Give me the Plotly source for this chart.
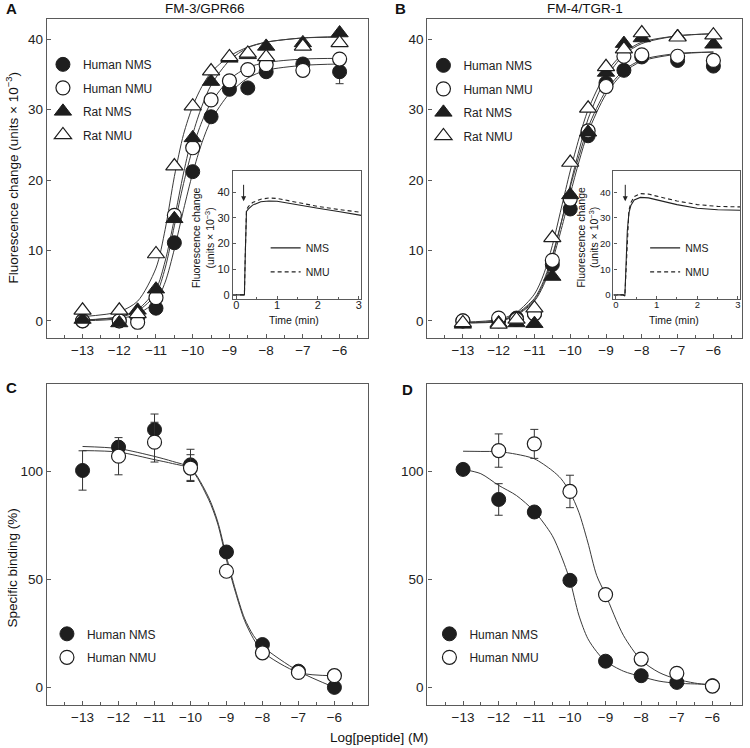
import plotly.graph_objects as go

# ---- data ----
log_conc = [-13, -12, -11.5, -11, -10.5, -10, -9.5, -9, -8.5, -8, -7, -6]

# panel A: FM-3/GPR66, fluorescence change (units x 10^-3)
a_human_nms = [0.0, 0.0, 0.3, 1.8, 11.1, 21.2, 29.0, 32.9, 33.1, 35.4, 36.5, 35.4]
a_human_nms_err = [0, 0, 0, 0, 0, 0, 0, 0, 0, 0, 0, 1.7]
a_human_nmu = [0.0, 0.0, -0.2, 3.3, 15.0, 24.6, 31.4, 34.1, 35.7, 36.4, 35.6, 37.2]
a_rat_nms = [0.2, -0.3, 1.5, 4.5, 14.5, 26.0, 34.0, 37.3, 37.8, 39.0, 39.5, 40.9]
a_rat_nmu = [1.5, 1.5, 1.0, 9.5, 22.0, 30.5, 35.5, 37.5, 38.0, 37.5, 39.0, 39.5]

# panel B: FM-4/TGR-1
b_human_nms = [0.0, 0.0, 0.4, 1.0, 8.0, 15.9, 26.3, 33.8, 35.6, 37.5, 37.0, 36.2]
b_human_nmu = [0.0, 0.4, 0.2, 1.0, 8.6, 17.3, 27.0, 33.3, 37.6, 37.8, 37.6, 37.0]
b_rat_nms = [-0.5, -0.3, -0.3, -0.4, 6.3, 17.9, 26.8, 35.3, 39.4, 40.2, 40.4, 39.3]
b_rat_nmu = [-0.3, -0.5, 0.2, 1.8, 11.8, 22.5, 30.2, 36.1, 38.6, 40.9, 40.3, 40.6]

# smooth fitted curves, read along a grid of log concentrations
curve_x_ab = [-13, -12, -11.5, -11, -10.75, -10.5, -10.25, -10, -9.75, -9.5, -9, -8.5, -8, -7, -6]
a_fit_human_nms = [0.0, 0.3, 1.0, 2.8, 5.5, 10.2, 15.8, 21.0, 25.3, 28.5, 32.3, 34.5, 35.6, 36.3, 36.5]
a_fit_human_nmu = [0.1, 0.5, 1.4, 3.8, 7.5, 13.5, 19.5, 24.5, 28.3, 31.0, 34.3, 36.0, 36.7, 37.2, 37.3]
a_fit_rat_nms = [0.1, 0.6, 1.6, 4.5, 8.5, 14.5, 21.0, 26.5, 30.5, 33.5, 37.0, 38.8, 39.6, 40.2, 40.3]
a_fit_rat_nmu = [0.6, 1.3, 2.8, 7.5, 13.0, 20.5, 26.5, 30.5, 33.3, 35.3, 37.6, 38.9, 39.6, 40.2, 40.4]
b_fit_human_nms = [-0.3, -0.1, 0.8, 2.8, 5.0, 8.5, 13.0, 18.0, 22.7, 26.8, 32.2, 35.3, 36.9, 37.9, 38.2]
b_fit_human_nmu = [-0.2, 0.0, 1.0, 3.2, 5.6, 9.3, 14.0, 19.0, 23.5, 27.5, 32.7, 35.6, 37.1, 38.0, 38.2]
b_fit_rat_nms = [-0.3, 0.0, 0.9, 3.0, 5.3, 9.0, 14.0, 19.3, 24.3, 28.7, 34.5, 37.8, 39.4, 40.5, 40.8]
b_fit_rat_nmu = [-0.2, 0.2, 1.2, 3.8, 6.5, 10.7, 16.0, 21.3, 26.0, 30.0, 35.2, 38.1, 39.6, 40.5, 40.8]

# panels C and D: specific binding (%)
log_conc_nms = [-13, -12, -11, -10, -9, -8, -7, -6]
log_conc_nmu = [-12, -11, -10, -9, -8, -7, -6]
c_nms = [100.3, 111.1, 119.2, 102.9, 62.6, 19.8, 7.5, 0.0]
c_nms_err = [9.1, 2.6, 7.2, 7.2, 0, 0, 0, 0]
c_nmu = [106.9, 113.4, 101.4, 53.7, 16.0, 6.9, 5.4]
c_nmu_err = [8.6, 9.2, 6.2, 0, 0, 0, 0]
d_nms = [100.8, 86.9, 81.1, 49.5, 12.1, 5.4, 2.3, 0.8]
d_nms_err = [0, 7.3, 0, 0, 0, 0, 0, 0]
d_nmu = [109.5, 112.6, 90.6, 42.9, 13.1, 6.5, 0.6]
d_nmu_err = [7.7, 6.7, 7.5, 0, 0, 0, 0]

curve_x_c = [-13, -12, -11, -10.5, -10, -9.5, -9.25, -9, -8.75, -8.5, -8.25, -8, -7, -6]
c_fit_nms = [111.4, 110.4, 106.8, 104.5, 101.5, 88.0, 77.0, 60.5, 45.0, 32.0, 24.0, 19.0, 7.5, 0.0]
c_fit_nmu = [109.5, 108.8, 105.3, 103.5, 101.0, 87.0, 76.0, 59.0, 44.0, 31.0, 22.5, 16.5, 6.9, 5.4]
curve_x_d = [-13, -12.5, -12, -11.5, -11, -10.5, -10.25, -10, -9.75, -9.5, -9.25, -9, -8.5, -8, -7.5, -7, -6.5, -6]
d_fit_nms = [100.8, 98.8, 93.4, 88.7, 81.4, 70.3, 61.0, 49.5, 33.4, 22.6, 16.5, 12.1, 7.5, 5.0, 2.9, 1.9, 1.6, 1.3]
d_fit_nmu = [109.2, 109.1, 109.0, 107.8, 105.7, 100.3, 96.5, 90.3, 81.0, 67.2, 51.8, 42.9, 24.1, 12.6, 6.9, 3.8, 2.0, 1.0]

# insets: calcium traces after 1 uM peptide
inset_time_a = [-0.08, 0.2, 0.22, 0.25, 0.3, 0.4, 0.6, 0.8, 1.0, 1.25, 1.5, 2.0, 2.5, 3.06]
inset_a_nms = [0, 0, 15, 32.5, 33.5, 35, 36.3, 36.6, 36.5, 35.8, 35, 33.8, 32.5, 31]
inset_a_nmu = [0, 0, 15, 33.2, 34.5, 36, 37.3, 37.8, 37.6, 36.8, 36, 34.5, 33.3, 32.2]
inset_time_b = [-0.06, 0.18, 0.22, 0.25, 0.28, 0.32, 0.37, 0.45, 0.6, 0.8, 1.0, 1.5, 2.0, 2.5, 3.05]
inset_b_nms = [0, 0, -0.4, 10, 25, 32, 35, 37, 38, 37.8, 37, 35.2, 33.8, 33.2, 33]
inset_b_nmu = [0, 0, -0.3, 10, 25.5, 33, 36, 38.3, 39.5, 39.3, 38.5, 36.6, 35.2, 34.5, 34.3]

x_tick_vals = [-13, -12, -11, -10, -9, -8, -7, -6]
x_tick_text = ["\u221213", "\u221212", "\u221211", "\u221210", "\u22129", "\u22128", "\u22127", "\u22126"]

W, H = 750, 748
FONT = "Liberation Sans, Arial, Helvetica, sans-serif"
AX = "#5a5a5a"
INK = "#1e1e1e"
CURVE = "#3a3a3a"


def px_x(p):
    return p / W


def px_y(p):
    return 1 - p / H


def frame(domain, rng, anchor, size=13.5, **kw):
    d = dict(domain=domain, range=rng, anchor=anchor, showline=True, mirror=True,
             linecolor=AX, linewidth=1.2, ticks="inside", ticklen=4, tickcolor=AX,
             tickwidth=1, showgrid=False, zeroline=False,
             tickfont=dict(family=FONT, size=size, color="#222"))
    d.update(kw)
    return d


MARKERS = {
    "Human NMS": dict(symbol="circle", color=INK, size=14, line=dict(color=INK, width=1)),
    "Human NMU": dict(symbol="circle", color="white", size=14, line=dict(color=INK, width=1.2)),
    "Rat NMS": dict(symbol="triangle-up", color=INK, size=15, line=dict(color=INK, width=1)),
    "Rat NMU": dict(symbol="triangle-up", color="white", size=15, line=dict(color=INK, width=1.2)),
}

fig = go.Figure()


def add_curve(x, y, xa, ya, width=1):
    fig.add_trace(go.Scatter(x=x, y=y, mode="lines", xaxis=xa, yaxis=ya, showlegend=False,
                             hoverinfo="skip",
                             line=dict(color=CURVE, width=width, shape="spline", smoothing=0.8)))


def add_points(x, y, name, xa, ya, legend, err=None):
    error = None
    if err is not None:
        error = dict(type="data", array=err, color="#333", thickness=1, width=4)
    fig.add_trace(go.Scatter(x=x, y=y, mode="markers", name=name, xaxis=xa, yaxis=ya,
                             marker=MARKERS[name], error_y=error, legend=legend,
                             legendgroup=legend + name))


# panel A
for fit in [a_fit_human_nms, a_fit_human_nmu, a_fit_rat_nms, a_fit_rat_nmu]:
    add_curve(curve_x_ab, fit, "x", "y")
add_points(log_conc, a_human_nms, "Human NMS", "x", "y", "legend", a_human_nms_err)
add_points(log_conc, a_human_nmu, "Human NMU", "x", "y", "legend")
add_points(log_conc, a_rat_nms, "Rat NMS", "x", "y", "legend")
add_points(log_conc, a_rat_nmu, "Rat NMU", "x", "y", "legend")

# panel B
for fit in [b_fit_human_nms, b_fit_human_nmu, b_fit_rat_nms, b_fit_rat_nmu]:
    add_curve(curve_x_ab, fit, "x2", "y2")
add_points(log_conc, b_human_nms, "Human NMS", "x2", "y2", "legend2")
add_points(log_conc, b_human_nmu, "Human NMU", "x2", "y2", "legend2")
add_points(log_conc, b_rat_nms, "Rat NMS", "x2", "y2", "legend2")
add_points(log_conc, b_rat_nmu, "Rat NMU", "x2", "y2", "legend2")

# panel C
add_curve(curve_x_c, c_fit_nms, "x3", "y3")
add_curve(curve_x_c, c_fit_nmu, "x3", "y3")
add_points(log_conc_nms, c_nms, "Human NMS", "x3", "y3", "legend3", c_nms_err)
add_points(log_conc_nmu, c_nmu, "Human NMU", "x3", "y3", "legend3", c_nmu_err)

# panel D
add_curve(curve_x_d, d_fit_nms, "x4", "y4")
add_curve(curve_x_d, d_fit_nmu, "x4", "y4")
add_points(log_conc_nms, d_nms, "Human NMS", "x4", "y4", "legend4", d_nms_err)
add_points(log_conc_nmu, d_nmu, "Human NMU", "x4", "y4", "legend4", d_nmu_err)

# insets
for t, nms, nmu, xa, ya, lg in [(inset_time_a, inset_a_nms, inset_a_nmu, "x5", "y5", "legend5"),
                                (inset_time_b, inset_b_nms, inset_b_nmu, "x6", "y6", "legend6")]:
    fig.add_trace(go.Scatter(x=t, y=nms, mode="lines", name="NMS", xaxis=xa, yaxis=ya,
                             line=dict(color="#222", width=1.1), legend=lg, legendgroup=lg + "a"))
    fig.add_trace(go.Scatter(x=t, y=nmu, mode="lines", name="NMU", xaxis=xa, yaxis=ya,
                             line=dict(color="#222", width=1.1, dash="4px,3px"), legend=lg,
                             legendgroup=lg + "b"))

x_common = dict(tickvals=x_tick_vals, ticktext=x_tick_text,
                minor=dict(ticks="inside", tick0=-13, dtick=0.5, ticklen=3, tickcolor=AX))
inset_x = dict(tickvals=[0, 1, 2, 3], minor=dict(ticks="inside", tick0=0, dtick=0.5, ticklen=2,
                                                  tickcolor=AX), ticklen=3, ticklabelstandoff=-4)

dom_left = [px_x(47), px_x(368)]
dom_right = [px_x(428), px_x(743)]
dom_top = [px_y(339), px_y(19)]
dom_bot = [px_y(707), px_y(385)]


def legend_box(left, top, size=12, gap=4.5):
    return dict(x=px_x(left), y=px_y(top), xanchor="left", yanchor="top", bgcolor="rgba(0,0,0,0)",
                font=dict(family=FONT, size=size, color="#222"), tracegroupgap=gap,
                itemclick=False, itemdoubleclick=False)


fig.update_layout(
    width=W, height=H, autosize=False, margin=dict(l=0, r=0, t=0, b=0),
    paper_bgcolor="white", plot_bgcolor="white",
    font=dict(family=FONT, size=13, color="#222"),
    xaxis=frame(dom_left, [-13.97, -5.24], "y", **x_common),
    yaxis=frame(dom_top, [-2.45, 42.9], "x", tickvals=[0, 10, 20, 30, 40]),
    xaxis2=frame(dom_right, [-13.99, -5.2], "y2", **x_common),
    yaxis2=frame(dom_top, [-2.45, 42.9], "x2", tickvals=[0, 10, 20, 30, 40]),
    xaxis3=frame(dom_left, [-13.99, -5.08], "y3", **x_common),
    yaxis3=frame(dom_bot, [-8.2, 140.3], "x3", tickvals=[0, 50, 100]),
    xaxis4=frame(dom_right, [-14.0, -5.17], "y4", **x_common),
    yaxis4=frame(dom_bot, [-8.2, 140.3], "x4", tickvals=[0, 50, 100]),
    xaxis5=frame([px_x(233.3), px_x(361.7)], [-0.08, 3.06], "y5", size=11, **inset_x),
    yaxis5=frame([px_y(300), px_y(171.7)], [-1.67, 48.2], "x5", size=11,
                 tickvals=[0, 10, 20, 30, 40], ticklen=3),
    xaxis6=frame([px_x(614.3), px_x(741)], [-0.06, 3.05], "y6", size=9.5, **inset_x),
    yaxis6=frame([px_y(300), px_y(171.7)], [-1.67, 48.2], "x6", size=9.5,
                 tickvals=[0, 10, 20, 30, 40], ticklen=3),
    legend=legend_box(43, 50),
    legend2=legend_box(424, 51),
    legend3=legend_box(47, 621),
    legend4=legend_box(430, 621),
    legend5=legend_box(266, 234, size=10.5, gap=5),
    legend6=legend_box(646, 234, size=10.5, gap=5),
)


def note(text, x, y, size, angle=0):
    fig.add_annotation(text=text, x=px_x(x), y=px_y(y), xref="paper", yref="paper",
                       xanchor="center", yanchor="middle", showarrow=False, textangle=angle,
                       font=dict(family=FONT, size=size, color="#111"))


for letter, x, y in [("A", 12, 9), ("B", 401, 9), ("C", 12, 389), ("D", 408, 391)]:
    note("<b>%s</b>" % letter, x, y, 15)
note("FM-3/GPR66", 205, 9, 13.5)
note("FM-4/TGR-1", 586, 9, 13.5)
note("Log[peptide] (M)", 380, 739, 13.5)
note("Fluorescence change (units \u00d7 10<sup>\u22123</sup>)", 12, 178, 13.5, -90)
note("Specific binding (%)", 12, 569, 13.5, -90)
for xc, tx in [(204, 294), (589, 675)]:
    note("Fluorescence change<br>(units \u00d7 10<sup>\u22123</sup>)", xc, 238, 10.5, -90)
    note("Time (min)", tx, 321, 10.5)

# stimulus arrows in the insets
for xa, ya, t in [("x5", "y5", 0.18), ("x6", "y6", 0.23)]:
    fig.add_annotation(x=t, y=36.5, ax=t, ay=43.5, xref=xa, yref=ya, axref=xa, ayref=ya,
                       text="", showarrow=True, arrowhead=2, arrowsize=1, arrowwidth=1,
                       arrowcolor="#222")

fig.write_html("out.html", config={"displayModeBar": False},
               post_script="document.body.style.margin='0';")
